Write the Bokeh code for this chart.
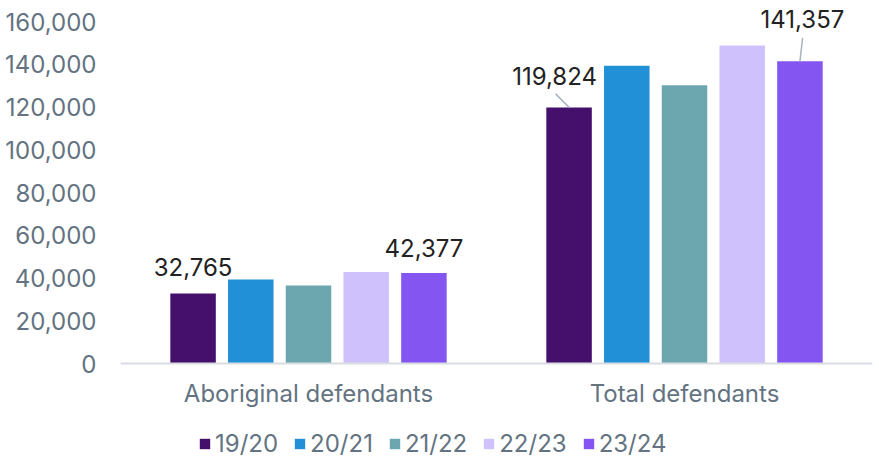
from bokeh.plotting import figure
from bokeh.models import ColumnDataSource, FactorRange, Legend, LegendItem, NumeralTickFormatter, FixedTicker
from bokeh.transform import dodge
from bokeh.core.properties import value
from bokeh.embed import file_html
from bokeh.resources import INLINE

categories = ["Aboriginal defendants", "Total defendants"]
years = ["19/20", "20/21", "21/22", "22/23", "23/24"]
v_1920 = [32765, 119824]
v_2021 = [39300, 139300]
v_2122 = [36500, 130200]
v_2223 = [42800, 148800]
v_2324 = [42377, 141357]
colors = ["#44106B", "#2290D6", "#6CA7B0", "#CFC2FC", "#8455F0"]
y_ticks = [0, 20000, 40000, 60000, 80000, 100000, 120000, 140000, 160000]

FONT = "Inter"
GREY = "#637381"
FS = "24px"

src = ColumnDataSource(dict(cat=categories, y1920=v_1920, y2021=v_2021, y2122=v_2122,
                            y2223=v_2223, y2324=v_2324))
series = ["y1920", "y2021", "y2122", "y2223", "y2324"]
offsets = [-0.307, -0.1535, 0.0, 0.1535, 0.307]

PX_Y = 160000 / 342  # data units per pixel
p = figure(x_range=FactorRange(*categories),
           y_range=(-95 * PX_Y, 160000 + 16 * PX_Y),
           width=879, height=458,
           output_backend="svg", toolbar_location=None,
           min_border_left=120, min_border_right=7, min_border_top=5, min_border_bottom=0)
p.outline_line_color = None
p.xgrid.grid_line_color = None
p.ygrid.grid_line_color = None

renderers = []
for s, off, c in zip(series, offsets, colors):
    r = p.vbar(x=dodge("cat", off, range=p.x_range), top=s, width=0.121, source=src,
               fill_color=c, line_color=None)
    renderers.append(r)

# data labels (first and last year)
lab_first = ColumnDataSource(dict(cat=categories, v=v_1920, t=[f"{v:,}" for v in v_1920],
                                  xo=[0, -14.5], yo=[-26, -31]))
lab_last = ColumnDataSource(dict(cat=categories, v=v_2324, t=[f"{v:,}" for v in v_2324],
                                 xo=[0, 2.5], yo=[-25, -42]))
for srcl, off in ((lab_first, offsets[0]), (lab_last, offsets[4])):
    p.text(x=dodge("cat", off, range=p.x_range), y="v", text="t", source=srcl,
           x_offset="xo", y_offset="yo", text_align="center", text_baseline="middle",
           text_font=value(FONT), text_font_size=FS, text_color="#222222")

# leader lines for total defendants labels (offsets in data units)
px_x = 1 / 376
lead1 = ColumnDataSource(dict(cat=["Total defendants"], y0=[v_1920[1] + 13.5 * PX_Y], y1=[v_1920[1]]))
p.segment(x0=dodge("cat", offsets[0] - 13.5 * px_x, range=p.x_range), y0="y0",
          x1=dodge("cat", offsets[0], range=p.x_range), y1="y1", source=lead1,
          line_color="#A9B4BE", line_width=1.5)
lead2 = ColumnDataSource(dict(cat=["Total defendants"], y0=[v_2324[1] + 23.5 * PX_Y], y1=[v_2324[1]]))
p.segment(x0=dodge("cat", offsets[4] + 2.7 * px_x, range=p.x_range), y0="y0",
          x1=dodge("cat", offsets[4], range=p.x_range), y1="y1", source=lead2,
          line_color="#A9B4BE", line_width=1.5)

# axes
p.yaxis.ticker = FixedTicker(ticks=y_ticks)
p.yaxis.formatter = NumeralTickFormatter(format="0,0")
p.yaxis.axis_line_color = None
p.yaxis.major_tick_line_color = None
p.yaxis.minor_tick_line_color = None
p.yaxis.major_label_standoff = 18
p.yaxis.major_label_text_font = FONT
p.yaxis.major_label_text_font_size = FS
p.yaxis.major_label_text_color = GREY

p.xaxis.fixed_location = 0
p.xaxis.axis_line_color = "#D9DDE2"
p.xaxis.axis_line_width = 2
p.xaxis.major_tick_line_color = None
p.xaxis.minor_tick_line_color = None
p.xaxis.major_label_standoff = 9
p.xaxis.major_label_text_font = FONT
p.xaxis.major_label_text_font_size = FS
p.xaxis.major_label_text_color = GREY

legend = Legend(items=[LegendItem(label=y, renderers=[r]) for y, r in zip(years, renderers)],
                orientation="horizontal", location=(78, 0),
                label_text_font=FONT, label_text_font_size=FS, label_text_color=GREY,
                glyph_width=13, glyph_height=13, label_standoff=4, spacing=15,
                padding=0, margin=0, border_line_color=None, background_fill_alpha=0)
p.add_layout(legend)

open("out.html", "w").write(file_html(p, INLINE))
